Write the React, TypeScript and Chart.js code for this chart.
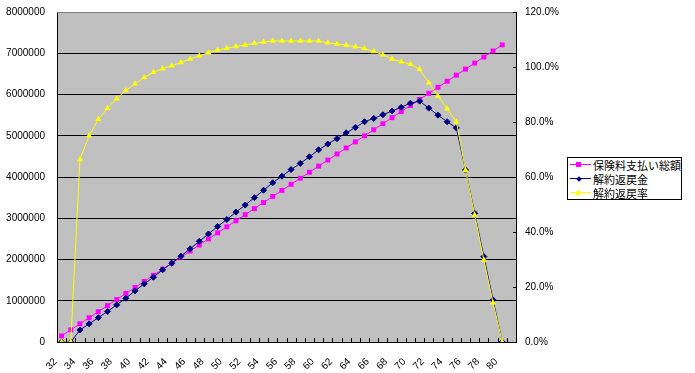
import React, { useEffect, useRef } from "react";
import { Chart, registerables } from "chart.js";

Chart.register(...registerables);

const categories = [
  "32", "33", "34", "35", "36", "37", "38", "39", "40", "41",
  "42", "43", "44", "45", "46", "47", "48", "49", "50", "51",
  "52", "53", "54", "55", "56", "57", "58", "59", "60", "61",
  "62", "63", "64", "65", "66", "67", "68", "69", "70", "71",
  "72", "73", "74", "75", "76", "77", "78", "79", "80", "81",
];

const seriesNames = ["保険料支払い総額", "解約返戻金", "解約返戻率"];

// 保険料支払い総額 (left axis, yen)
const premiumTotal = [
  147000, 294000, 441000, 588000, 735000, 882000, 1029000, 1176000, 1323000, 1470000,
  1617000, 1764000, 1911000, 2058000, 2205000, 2352000, 2499000, 2646000, 2793000, 2940000,
  3087000, 3234000, 3381000, 3528000, 3675000, 3822000, 3969000, 4116000, 4263000, 4410000,
  4557000, 4704000, 4851000, 4998000, 5145000, 5292000, 5439000, 5586000, 5733000, 5880000,
  6027000, 6174000, 6321000, 6468000, 6615000, 6762000, 6909000, 7056000, 7203000, null,
];

// 解約返戻金 (left axis, yen)
const surrenderValue = [
  0, 0, 290000, 440000, 590000, 740000, 900000, 1060000, 1240000, 1410000,
  1570000, 1750000, 1910000, 2080000, 2260000, 2440000, 2620000, 2800000, 2970000, 3150000,
  3320000, 3500000, 3680000, 3860000, 4020000, 4180000, 4330000, 4490000, 4660000, 4800000,
  4930000, 5070000, 5200000, 5340000, 5420000, 5510000, 5600000, 5690000, 5790000, 5840000,
  5670000, 5500000, 5340000, 5190000, 4170000, 3120000, 2070000, 1020000, 0, null,
];

// 解約返戻率 (right axis, ratio)
const surrenderRate = [
  0, 0, 0.664, 0.75, 0.81, 0.85, 0.885, 0.915, 0.939, 0.962,
  0.981, 0.994, 1.005, 1.016, 1.029, 1.041, 1.052, 1.062, 1.068, 1.075,
  1.08, 1.086, 1.091, 1.095, 1.095, 1.095, 1.095, 1.095, 1.095, 1.088,
  1.084, 1.079, 1.074, 1.067, 1.056, 1.045, 1.029, 1.019, 1.01, 0.992,
  0.943, 0.895, 0.848, 0.801, 0.625, 0.462, 0.298, 0.143, 0, null,
];

const leftAxisMax = 8000000;
const leftAxisStep = 1000000;
const rightAxisMax = 1.2;
const rightAxisStep = 0.2;

const colors = ["#FF00FF", "#000080", "#FFFF00"];

const FONT = "'Liberation Sans', Arial, sans-serif";

const plotDecor = {
  id: "plotDecor",
  beforeDraw(chart: any) {
    const { ctx, chartArea: a } = chart;
    ctx.save();
    ctx.fillStyle = "#FFFFFF";
    ctx.fillRect(0, 0, chart.width, chart.height);
    ctx.fillStyle = "#C0C0C0";
    ctx.fillRect(a.left, a.top, a.right - a.left, a.bottom - a.top);
    ctx.restore();
  },
  afterDraw(chart: any) {
    const { ctx, chartArea: a } = chart;
    const xs = chart.scales.x;
    const y1 = chart.scales.y1;
    ctx.save();
    ctx.strokeStyle = "#808080";
    ctx.lineWidth = 1;
    ctx.beginPath();
    ctx.moveTo(a.left, Math.round(a.top) + 0.5);
    ctx.lineTo(a.right, Math.round(a.top) + 0.5);
    ctx.stroke();
    // inward category tick marks
    ctx.strokeStyle = "#000000";
    ctx.beginPath();
    const n = categories.length;
    const step = (xs.right - xs.left) / n;
    for (let i = 0; i <= n; i++) {
      const x = Math.round(xs.left + i * step) + 0.5;
      ctx.moveTo(x, a.bottom);
      ctx.lineTo(x, a.bottom - 4);
    }
    // inward ticks on right axis
    y1.ticks.forEach((t: any) => {
      const y = Math.round(y1.getPixelForValue(t.value)) + 0.5;
      ctx.moveTo(a.right, y);
      ctx.lineTo(a.right - 3, y);
    });
    ctx.stroke();
    ctx.restore();
  },
};

export default function App() {
  const ref = useRef<HTMLCanvasElement | null>(null);

  useEffect(() => {
    if (!ref.current) return;
    const chart = new Chart(ref.current, {
      type: "line",
      data: {
        labels: categories,
        datasets: [
          {
            label: seriesNames[0],
            data: premiumTotal,
            yAxisID: "y",
            borderColor: colors[0],
            backgroundColor: colors[0],
            borderWidth: 1,
            pointStyle: "rect",
            pointRadius: 3.5,
            pointBorderWidth: 0,
            order: 2,
          },
          {
            label: seriesNames[1],
            data: surrenderValue,
            yAxisID: "y",
            borderColor: colors[1],
            backgroundColor: colors[1],
            borderWidth: 1,
            pointStyle: "rectRot",
            pointRadius: 3,
            pointBorderWidth: 1,
            order: 1,
          },
          {
            label: seriesNames[2],
            data: surrenderRate,
            yAxisID: "y1",
            borderColor: colors[2],
            backgroundColor: colors[2],
            borderWidth: 1,
            pointStyle: "triangle",
            pointRadius: 3.5,
            pointBorderWidth: 0,
            order: 0,
          },
        ],
      },
      options: {
        animation: false,
        responsive: false,
        layout: { padding: { top: 12, left: 0, right: 0, bottom: 0 } },
        plugins: {
          legend: { display: false },
          tooltip: { enabled: false },
        },
        scales: {
          x: {
            type: "category",
            offset: true,
            grid: { display: false, offset: true },
            border: { display: true, color: "#000000", width: 1 },
            ticks: {
              autoSkip: false,
              maxRotation: 45,
              minRotation: 45,
              padding: 6,
              labelOffset: -6,
              color: "#000000",
              font: { family: FONT, size: 10 },
              callback: (_v: any, i: number) =>
                i % 2 === 0 && i < categories.length - 1 ? categories[i] : "",
            },
            afterFit: (s: any) => {
              s.height = 31;
            },
          },
          y: {
            position: "left",
            min: 0,
            max: leftAxisMax,
            grid: {
              drawTicks: false,
              color: (c: any) => (c.tick && c.tick.value === leftAxisMax ? "#808080" : "#000000"),
              lineWidth: 1,
            },
            border: { display: true, color: "#000000", width: 1 },
            ticks: {
              stepSize: leftAxisStep,
              padding: 12,
              color: "#000000",
              font: { family: FONT, size: 10 },
              callback: (v: any) => String(v),
            },
            afterFit: (s: any) => {
              s.width = 57;
              s.paddingTop = 0;
              s.paddingBottom = 0;
            },
          },
          y1: {
            position: "right",
            min: 0,
            max: rightAxisMax,
            grid: { drawOnChartArea: false, drawTicks: false },
            border: { display: true, color: "#000000", width: 1 },
            ticks: {
              stepSize: rightAxisStep,
              padding: 9,
              color: "#000000",
              font: { family: FONT, size: 10 },
              callback: (v: any) => (Number(v) * 100).toFixed(1) + "%",
            },
            afterFit: (s: any) => {
              s.width = 179;
              s.paddingTop = 0;
              s.paddingBottom = 0;
            },
          },
        },
      },
      plugins: [plotDecor],
    });
    return () => chart.destroy();
  }, []);

  const markerFor = (i: number) => {
    if (i === 0)
      return <div style={{ position: "absolute", left: 8, top: 4, width: 5, height: 5, background: colors[0] }} />;
    if (i === 1)
      return (
        <div
          style={{
            position: "absolute",
            left: 9,
            top: 4.5,
            width: 4,
            height: 4,
            background: colors[1],
            transform: "rotate(45deg)",
          }}
        />
      );
    return (
      <div
        style={{
          position: "absolute",
          left: 7,
          top: 3,
          width: 0,
          height: 0,
          borderLeft: "3.5px solid transparent",
          borderRight: "3.5px solid transparent",
          borderBottom: `6px solid ${colors[2]}`,
        }}
      />
    );
  };

  return (
    <div style={{ position: "fixed", left: 0, top: 0, width: 695, height: 373, background: "#fff" }}>
      <canvas ref={ref} width={695} height={373} style={{ display: "block" }} />
      <div
        style={{
          position: "absolute",
          left: 567,
          top: 157,
          width: 115,
          height: 43,
          boxSizing: "border-box",
          border: "1px solid #000",
          background: "#fff",
          fontFamily: "'Noto Sans CJK JP', sans-serif",
          fontSize: 11,
          color: "#000",
        }}
      >
        {seriesNames.map((name, i) => (
          <div key={name} style={{ position: "relative", height: 14, lineHeight: "14px", whiteSpace: "nowrap" }}>
            <div style={{ position: "absolute", left: 0, top: 0, width: 24, height: 14 }}>
              <div style={{ position: "absolute", left: 2, top: 6, width: 21, height: 1, background: colors[i] }} />
              {markerFor(i)}
            </div>
            <span style={{ position: "absolute", left: 25, top: 0 }}>{name}</span>
          </div>
        ))}
      </div>
    </div>
  );
}
